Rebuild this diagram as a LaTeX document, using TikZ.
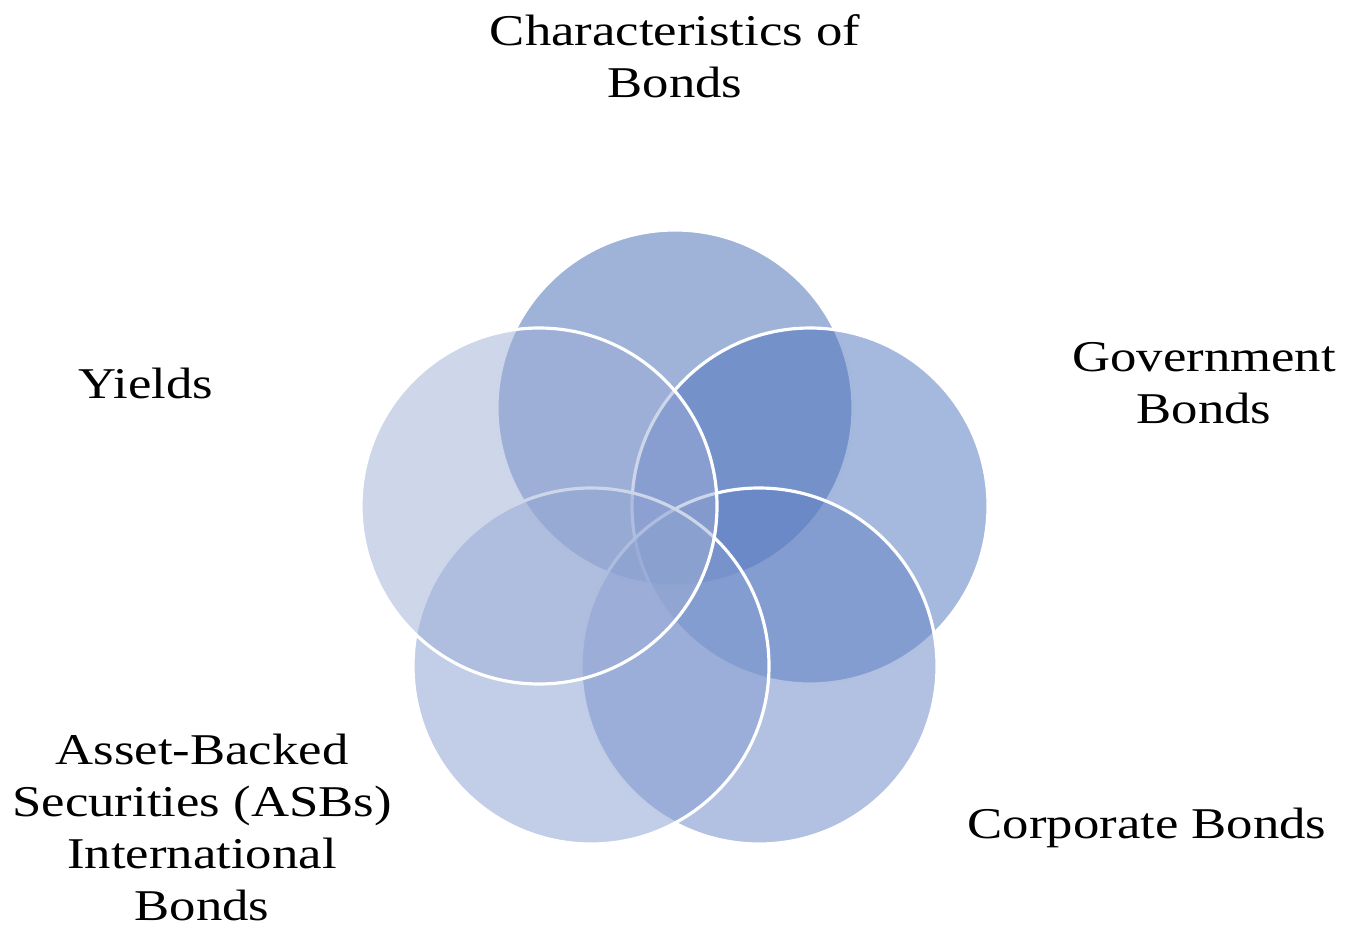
\documentclass[tikz,border=0pt]{standalone}
\usepackage{fontspec}
\setmainfont{Liberation Serif}[FakeStretch=1.2]

\definecolor{ctop}{RGB}{63,103,177}
\definecolor{cright}{RGB}{75,113,189}
\definecolor{cbr}{RGB}{101,131,197}
\definecolor{cbl}{RGB}{133,157,209}
\definecolor{cleft}{RGB}{157,173,213}

\begin{document}
\begin{tikzpicture}[x=1cm, y=1cm,
  ring/.style={fill opacity=0.5, draw=white, draw opacity=1, line width=0.9pt},
  lbl/.style={align=center, font=\fontsize{12.5}{14.8}\selectfont, inner sep=0pt}]

\useasboundingbox (0,0) rectangle (13.49,9.29);

\def\rad{1.78}

% circles, drawn in the order of the reference
\draw[ring, fill=ctop]   (6.75,5.21) circle (\rad);
\draw[ring, fill=cright] (8.10,4.23) circle (\rad);
\draw[ring, fill=cbr]    (7.59,2.63) circle (\rad);
\draw[ring, fill=cbl]    (5.91,2.63) circle (\rad);
\draw[ring, fill=cleft]  (5.39,4.23) circle (\rad);

% labels
\node[lbl] (char)  at (6.75,8.73)  {Characteristics of\\Bonds};
\node[lbl] (gov)   at (12.04,5.46) {Government\\Bonds};
\node[lbl] (corp)  at (11.47,1.01) {Corporate Bonds};
\node[lbl] (asb)   at (2.02,1.02)  {Asset-Backed\\Securities (ASBs)\\International\\Bonds};
\node[lbl] (yield) at (1.46,5.46)  {Yields};

\end{tikzpicture}
\end{document}
